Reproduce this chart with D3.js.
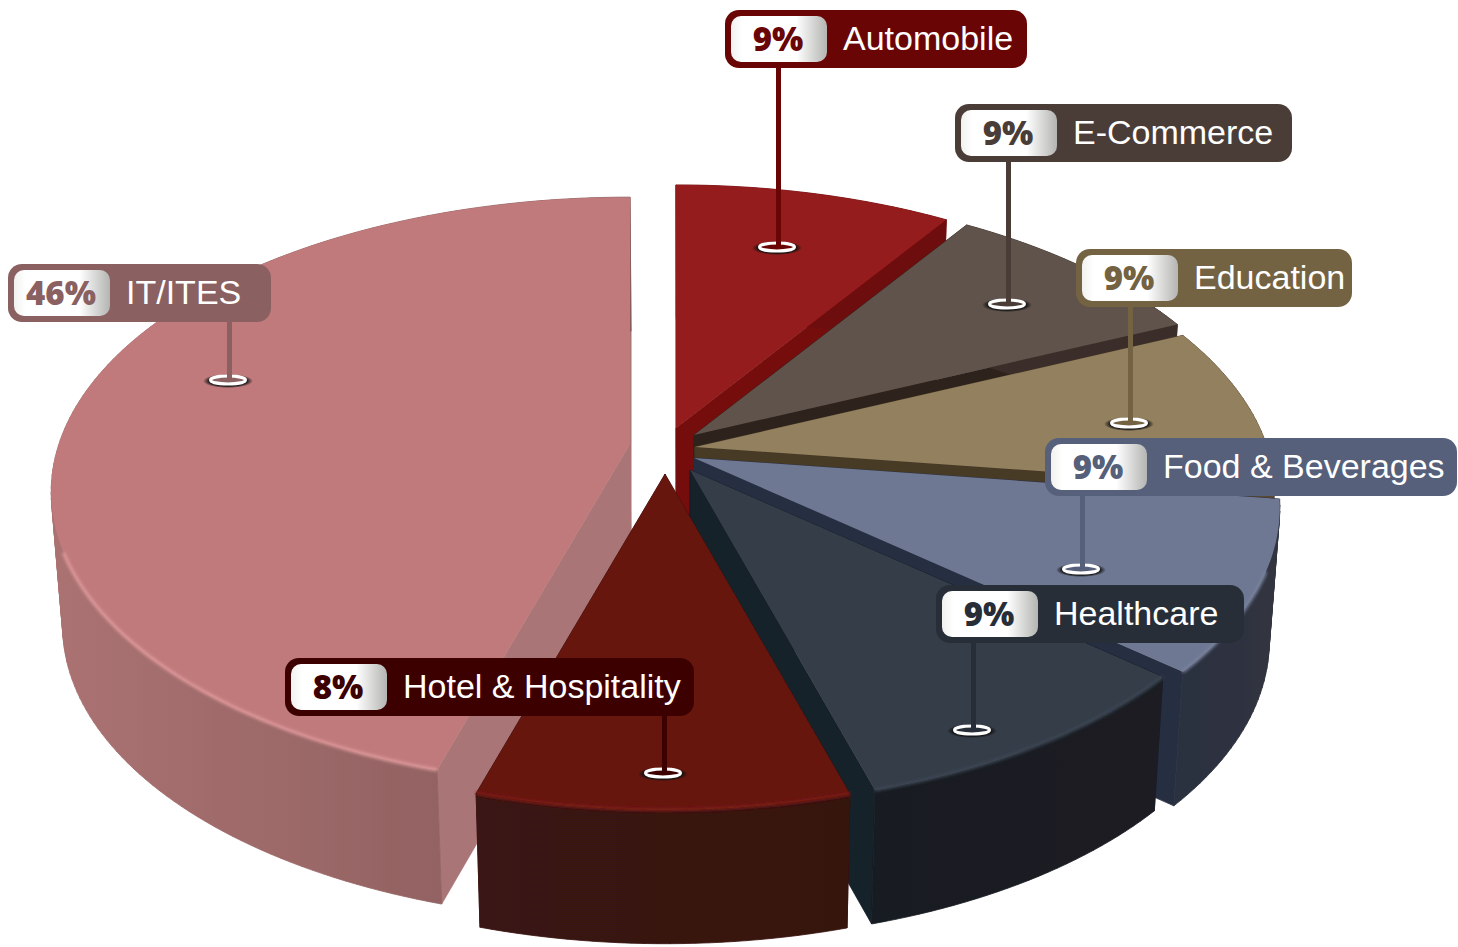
<!DOCTYPE html>
<html>
<head>
<meta charset="utf-8">
<script src="https://cdn.jsdelivr.net/npm/d3@7"></script>
<style>
  html, body { margin: 0; padding: 0; background: #fff; }
  svg { display: block; }
</style>
</head>
<body>
<div id="my_dataviz"></div>
<script>
// the data, as printed on the labels
var categories = ["Automobile", "E-Commerce", "Education", "Food & Beverages", "Healthcare", "Hotel & Hospitality", "IT/ITES"];
var percentLabels = ["9%", "9%", "9%", "9%", "9%", "8%", "46%"];
// share of the circle each slice really takes in the picture (the drawn slices don't follow the printed figures exactly)
var sliceShares = [9.2, 9.0, 9.0, 9.2, 9.1, 9.1, 45.4];

// colours
var topColors = ["#951c1e", "#5f534b", "#93805f", "#6e7893", "#353d4a", "#661510", "#c07a7c"];
var rimColors = ["#a52226", "#6b5f56", "#9e8c6c", "#79839e", "#3e4654", "#7e1a14", "#e09a9c"];
var radialColors = ["#750c0e", "#2e221c", "#463a26", "#282e42", "#18202a", "#3a1110", "#a97576"];
var outerColors = [["#6e0a0c", "#6e0a0c"], ["#3a2f29", "#3a2f29"], ["#5a4a30", "#5a4a30"], ["#2b3040", "#31353f"], ["#191c22", "#1a1e24"], ["#3a1312", "#361210"], ["#ab7272", "#875a5a"]];
var labelColors = ["#690505", "#4a3d38", "#746343", "#56607a", "#272e38", "#3d0000", "#8a6061"];

// layout of the exploded pie: where each slice's tip sits, and how far it reaches
var hubX = [676, 694, 695, 694, 690, 665, 630];
var hubY = [428, 435, 447, 458, 470, 474, 444];
var reach = [1, 1.01, 1.02, 1.03, 1, 1, 1.018];
var paintOrder = [0, 1, 2, 3, 4, 6, 5];

// layout of the labels
var labelX = [725, 955, 1076, 1045, 936, 285, 8];
var labelY = [10, 104, 249, 438, 585, 658, 264];
var labelW = [302, 337, 276, 412, 308, 409, 263];
var pinX = [777, 1007, 1129, 1081, 972, 663, 228];
var pinY = [247, 304, 423, 569, 730, 773, 380];

var width = 1458, height = 947;
var radius = 561, flat = 282, tilt = 0.16, depth = 134, taper = 0.982, floorX = 690;
var labelH = 58;

var svg = d3.select("#my_dataviz")
  .append("svg")
    .attr("width", width)
    .attr("height", height);

var defs = svg.append("defs");

var soft = defs.append("filter").attr("id", "soft")
    .attr("x", "-5%").attr("y", "-5%").attr("width", "110%").attr("height", "110%");
soft.append("feGaussianBlur").attr("stdDeviation", 0.6);

var rimBlur = defs.append("filter").attr("id", "rimBlur")
    .attr("filterUnits", "userSpaceOnUse")
    .attr("x", 0).attr("y", 0).attr("width", width).attr("height", height);
rimBlur.append("feGaussianBlur").attr("stdDeviation", 1.6);

var chip = defs.append("linearGradient").attr("id", "chip");
chip.append("stop").attr("offset", "0%").attr("stop-color", "#f1f1ef");
chip.append("stop").attr("offset", "12%").attr("stop-color", "#ffffff");
chip.append("stop").attr("offset", "68%").attr("stop-color", "#ffffff");
chip.append("stop").attr("offset", "100%").attr("stop-color", "#b4b4b2");

var shadow = defs.append("radialGradient").attr("id", "ringShadow");
shadow.append("stop").attr("offset", "75%").attr("stop-color", "#111").attr("stop-opacity", 0.95);
shadow.append("stop").attr("offset", "100%").attr("stop-color", "#111").attr("stop-opacity", 0);

// angles come from d3.pie, clockwise from the top
var pie = d3.pie().sort(null).value(function(d) { return d; });
var slices = pie(sliceShares);

// tilted plane with a little perspective: the near side of the disc looks bigger
function project(i, angle, r) {
    var t = -Math.cos(angle) * r;
    var w = 1 - tilt * t;
    return [hubX[i] + radius * Math.sin(angle) * r / w, hubY[i] + flat * t / w];
}

function lower(p) {
    return [floorX + (p[0] - floorX) * taper, p[1] + depth];
}

function arcAngles(a0, a1) {
    var n = Math.max(2, Math.ceil(Math.abs(a1 - a0) / 0.02));
    var angle = d3.scaleLinear().domain([0, n]).range([a0, a1]);
    return d3.range(n + 1).map(angle);
}

var line = d3.line();

paintOrder.forEach(function(i) {
    var s = slices[i];
    var hub = [hubX[i], hubY[i]];
    var rim = arcAngles(s.startAngle, s.endAngle).map(function(a) { return project(i, a, reach[i]); });
    var g = svg.append("g").attr("filter", "url(#soft)");

    // the two straight walls
    [rim[0], rim[rim.length - 1]].forEach(function(p) {
        g.append("path")
            .attr("d", line([hub, p, lower(p), lower(hub)]) + "Z")
            .attr("fill", radialColors[i])
            .attr("stroke", radialColors[i])
            .attr("stroke-width", 0.8);
    });

    // curved outer wall, built from strips so the silhouette stays right at the far left and right.
    // every strip runs left to right, otherwise they cancel out where they overlap
    var xs = d3.extent(rim, function(p) { return p[0]; });
    var grad = defs.append("linearGradient")
        .attr("id", "outer" + i)
        .attr("gradientUnits", "userSpaceOnUse")
        .attr("x1", xs[0]).attr("x2", xs[1]).attr("y1", 0).attr("y2", 0);
    grad.append("stop").attr("offset", "0%").attr("stop-color", outerColors[i][0]);
    grad.append("stop").attr("offset", "100%").attr("stop-color", outerColors[i][1]);

    var strips = d3.pairs(rim).map(function(p) {
        var a = p[0][0] < p[1][0] ? p[0] : p[1];
        var b = p[0][0] < p[1][0] ? p[1] : p[0];
        return line([a, b, lower(b), lower(a)]) + "Z";
    }).join("");
    g.append("path")
        .attr("d", strips)
        .attr("fill", "url(#outer" + i + ")")
        .attr("stroke", "url(#outer" + i + ")")
        .attr("stroke-width", 0.8);

    // top face
    g.append("path")
        .attr("d", line([hub].concat(rim)) + "Z")
        .attr("fill", topColors[i]);

    // light catching the edge, only on the side facing us
    var front = arcAngles(s.startAngle, s.endAngle)
        .filter(function(a) { return Math.cos(a) < -0.35; })
        .map(function(a) { return project(i, a, reach[i]); });
    if (front.length > 1) {
        g.append("path")
            .attr("d", line(front))
            .attr("fill", "none")
            .attr("stroke", rimColors[i])
            .attr("stroke-width", 3)
            .attr("filter", "url(#rimBlur)");
    }
});

// pins and labels go on top of every slice
categories.forEach(function(name, i) {
    var g = svg.append("g");

    g.append("ellipse")
        .attr("cx", pinX[i]).attr("cy", pinY[i] + 1)
        .attr("rx", 25).attr("ry", 7)
        .attr("fill", "url(#ringShadow)");
    g.append("ellipse")
        .attr("cx", pinX[i]).attr("cy", pinY[i])
        .attr("rx", 17.5).attr("ry", 4)
        .attr("fill", labelColors[i])
        .attr("stroke", "#fff")
        .attr("stroke-width", 3);
    g.append("rect")
        .attr("x", pinX[i] - 1).attr("y", labelY[i] + labelH - 1)
        .attr("width", 5)
        .attr("height", pinY[i] - labelY[i] - labelH + 1)
        .attr("fill", labelColors[i]);

    g.append("rect")
        .attr("x", labelX[i]).attr("y", labelY[i])
        .attr("width", labelW[i]).attr("height", labelH)
        .attr("rx", 14)
        .attr("fill", labelColors[i]);
    g.append("rect")
        .attr("x", labelX[i] + 6).attr("y", labelY[i] + 6)
        .attr("width", 96).attr("height", labelH - 12)
        .attr("rx", 10)
        .attr("fill", "url(#chip)");

    g.append("text")
        .attr("x", labelX[i] + 53)
        .attr("y", labelY[i] + 41)
        .attr("text-anchor", "middle")
        .style("font-family", "'Open Sans', Lato, sans-serif")
        .style("font-weight", 800)
        .style("font-size", "33px")
        .attr("fill", labelColors[i])
        .text(percentLabels[i]);

    g.append("text")
        .attr("x", labelX[i] + 118)
        .attr("y", labelY[i] + 40)
        .style("font-family", "'Liberation Sans', sans-serif")
        .style("font-size", "34px")
        .attr("fill", "#fff")
        .text(name);
});
</script>
</body>
</html>
